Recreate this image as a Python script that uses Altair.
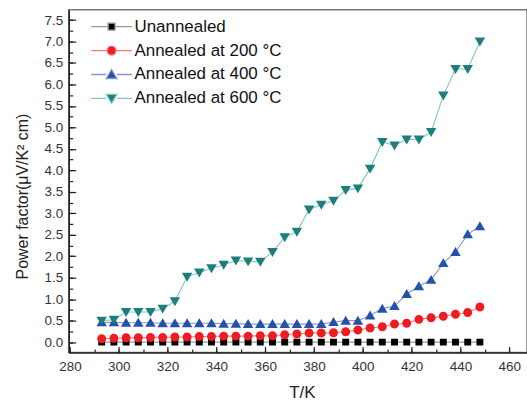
import altair as alt
import pandas as pd

# ---- data ----
temps = [293, 298, 303, 308, 313, 318, 323, 328, 333, 338, 343, 348, 353, 358, 363, 368,
         373, 378, 383, 388, 393, 398, 403, 408, 413, 418, 423, 428, 433, 438, 443, 448]

unannealed = [0.00, 0.00, 0.00, 0.00, 0.00, 0.00, 0.00, 0.00, 0.00, 0.00, 0.00, 0.00, 0.00, 0.00, 0.00, 0.00,
              0.00, 0.00, 0.00, 0.00, 0.00, 0.00, 0.00, 0.00, 0.00, 0.00, 0.00, 0.00, 0.00, 0.00, 0.00, 0.00]
annealed_200 = [0.08, 0.09, 0.10, 0.10, 0.11, 0.11, 0.12, 0.12, 0.13, 0.13, 0.14, 0.14, 0.14, 0.15, 0.15, 0.17,
                0.19, 0.21, 0.21, 0.22, 0.24, 0.28, 0.33, 0.36, 0.42, 0.44, 0.53, 0.57, 0.60, 0.65, 0.69, 0.82]
annealed_400 = [0.46, 0.46, 0.45, 0.45, 0.45, 0.44, 0.44, 0.44, 0.44, 0.44, 0.43, 0.43, 0.42, 0.42, 0.42, 0.42,
                0.42, 0.42, 0.42, 0.47, 0.50, 0.50, 0.62, 0.78, 0.84, 1.12, 1.30, 1.45, 1.84, 2.10, 2.51, 2.70]
annealed_600 = [0.50, 0.52, 0.70, 0.70, 0.70, 0.78, 0.95, 1.52, 1.62, 1.72, 1.80, 1.90, 1.88, 1.87, 2.10, 2.44,
                2.57, 3.09, 3.20, 3.29, 3.54, 3.58, 4.04, 4.66, 4.58, 4.72, 4.72, 4.89, 5.74, 6.36, 6.36, 7.00]

series_names = ["Unannealed", "Annealed at 200 °C", "Annealed at 400 °C", "Annealed at 600 °C"]
series_values = [unannealed, annealed_200, annealed_400, annealed_600]

x_major = [280, 300, 320, 340, 360, 380, 400, 420, 440, 460]
x_all_ticks = [280, 290, 300, 310, 320, 330, 340, 350, 360, 370, 380, 390, 400, 410, 420,
               430, 440, 450, 460]
y_major = [0.0, 0.5, 1.0, 1.5, 2.0, 2.5, 3.0, 3.5, 4.0, 4.5, 5.0, 5.5, 6.0, 6.5, 7.0, 7.5]
y_all_ticks = [0.0, 0.25, 0.5, 0.75, 1.0, 1.25, 1.5, 1.75, 2.0, 2.25, 2.5, 2.75, 3.0, 3.25,
               3.5, 3.75, 4.0, 4.25, 4.5, 4.75, 5.0, 5.25, 5.5, 5.75, 6.0, 6.25, 6.5, 6.75,
               7.0, 7.25, 7.5]

# ---- styles ----
marker_colors = ["#000000", "#ee1d23", "#2352a6", "#1c7f7b"]
line_colors = ["#9a9a9a", "#f27c7c", "#8a96cc", "#80c6c2"]
SYMBOL_SIZE = 767
marker_paths = [
    "M-1.48,0H-0.29M0.29,0H1.48M-0.25,-0.25H0.25V0.25H-0.25Z",
    "M-1.48,0H-0.35M0.35,0H1.48M-0.325,0A0.325,0.325,0,1,1,0.325,0A0.325,0.325,0,1,1,-0.325,0Z",
    "M-1.48,0H-0.39M0.39,0H1.48M0,-0.36L0.38,0.29H-0.38Z",
    "M-1.48,0H-0.39M0.39,0H1.48M0,0.36L0.38,-0.29H-0.38Z",
]

rows = []
for name, vals in zip(series_names, series_values):
    for t, v in zip(temps, vals):
        rows.append({"T": t, "PF": v, "series": name})
df = pd.DataFrame(rows)

W, H = 460, 344
xscale = alt.Scale(domain=[279.5, 467.3], nice=False, zero=False)
yscale = alt.Scale(domain=[-0.24, 7.74], nice=False, zero=False)

fill_scale = alt.Scale(domain=series_names, range=marker_colors)
stroke_scale = alt.Scale(domain=series_names, range=line_colors)
shape_scale = alt.Scale(domain=series_names, range=marker_paths)

leg = alt.Legend(title=None, orient="none", legendX=28.5, legendY=2.5,
                 symbolSize=SYMBOL_SIZE, symbolStrokeWidth=1.3, symbolOpacity=1,
                 labelFontSize=17, labelColor="#111", labelOffset=8.5,
                 rowPadding=1, padding=0, labelLimit=300)

main_x_axis = alt.Axis(orient="bottom", values=x_major, format="d", ticks=True,
                       tickSize={"expr": "-6"}, tickColor="#222", tickWidth=1.2,
                       grid=False, domainColor="#222", domainWidth=1.5,
                       labelFontSize=13.5, labelColor="#333", labelPadding=13,
                       labelFlush=False, labelOverlap=False,
                       title="T/K", titleFontSize=17, titleFontWeight="normal",
                       titleColor="#222", titleX=234, titleY=40,
                       titleBaseline="middle", titleAlign="center")
minor_x_axis = alt.Axis(orient="bottom", values=x_all_ticks, labels=False,
                        domain=False, grid=False, title=None, tickColor="#222",
                        tickWidth=1.2, ticks=True, tickSize={"expr": "-3.5"})
main_y_axis = alt.Axis(orient="left", values=y_major, format=".1f", ticks=True,
                       tickSize={"expr": "-7"}, tickColor="#222", tickWidth=1.2,
                       grid=False, domainColor="#222", domainWidth=1.5,
                       labelFontSize=13.5, labelColor="#333", labelPadding=13,
                       labelOverlap=False, labelFlush=False,
                       title="Power factor(μV/K² cm)", titleFontSize=16,
                       titleFontWeight="normal", titleColor="#222",
                       titleAngle=-90, titleX=-46, titleY=187,
                       titleBaseline="middle", titleAlign="center")
minor_y_axis = alt.Axis(orient="left", values=y_all_ticks, labels=False,
                        domain=False, grid=False, title=None, tickColor="#222",
                        tickWidth=1.2, ticks=True, tickSize={"expr": "-4"})

lines = alt.Chart(df).mark_line(strokeWidth=1.1).encode(
    x=alt.X("T:Q", scale=xscale, axis=minor_x_axis),
    y=alt.Y("PF:Q", scale=yscale, axis=minor_y_axis),
    stroke=alt.Stroke("series:N", scale=stroke_scale, legend=leg),
)

points = alt.Chart(df).mark_point(filled=True, opacity=1, size=SYMBOL_SIZE).encode(
    x=alt.X("T:Q", scale=xscale, axis=main_x_axis),
    y=alt.Y("PF:Q", scale=yscale, axis=main_y_axis),
    color=alt.Color("series:N", scale=fill_scale, legend=leg),
    stroke=alt.Stroke("series:N", scale=stroke_scale, legend=leg),
    shape=alt.Shape("series:N", scale=shape_scale, legend=leg),
    strokeWidth=alt.value(0),
)

chart = alt.layer(lines, points).resolve_axis(x="independent", y="independent").properties(
    width=W, height=H, autosize="none",
    padding={"left": 69, "top": 9, "right": 0, "bottom": 52},
).configure(font="Liberation Sans").configure_view(stroke="#777", strokeWidth=1.5)

chart.save("out.html", embed_options={"renderer": "svg", "actions": False})
